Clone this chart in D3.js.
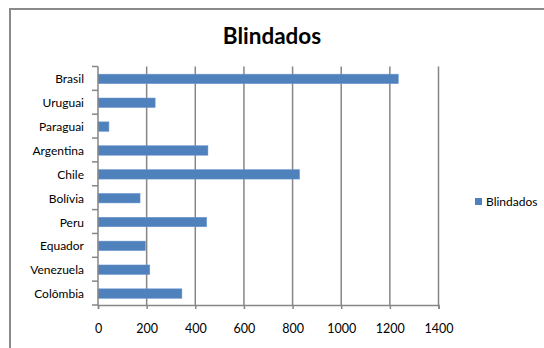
<!DOCTYPE html>
<html><head><meta charset="utf-8">
<script src="https://cdn.jsdelivr.net/npm/d3@7"></script>
<style>body{margin:0;background:#fff}svg{display:block}</style>
</head><body>
<svg id="c" width="544" height="348"></svg>
<script>
const categories = ["Brasil","Uruguai","Paraguai","Argentina","Chile","Bolívia","Peru","Equador","Venezuela","Colômbia"];
const values = [1235, 235, 45, 452, 829, 173, 447, 195, 213, 345];
const xTicks = [0,200,400,600,800,1000,1200,1400];
const seriesName = "Blindados";
const title = "Blindados";

const svg = d3.select("#c");
const font = "Lato, 'Open Sans', sans-serif";

// frame
svg.append("rect").attr("x",10).attr("y",9).attr("width",560).attr("height",360)
  .attr("fill","none").attr("stroke","#8a8a8a").attr("stroke-width",2);

const x = d3.scaleLinear().domain([0,1400]).range([98,438.5]);
const y = d3.scaleBand().domain(categories).range([66.5,305]).paddingInner(0).paddingOuter(0);

// gridlines
svg.append("g").selectAll("line").data(xTicks.slice(1)).join("line")
  .attr("x1",d=>x(d)).attr("x2",d=>x(d)).attr("y1",66.5).attr("y2",305)
  .attr("stroke","#868686").attr("stroke-width",1.5);

// bars
const bh = y.bandwidth()/2.5;
svg.append("g").selectAll("rect").data(values).join("rect")
  .attr("x",x(0)).attr("y",(d,i)=>y(categories[i])+y.bandwidth()/2-bh/2+0.5)
  .attr("width",d=>x(d)-x(0)).attr("height",bh)
  .attr("fill","#4F81BD").attr("stroke","#6f9ad0").attr("stroke-width",0.5);

// x axis
const xa = svg.append("g").attr("transform","translate(0,305)")
  .call(d3.axisBottom(x).tickValues(xTicks).tickSize(4).tickPadding(15).tickFormat(d3.format("d")));
xa.select(".domain").attr("stroke","#868686").attr("stroke-width",1.5);
xa.selectAll(".tick line").attr("stroke","#868686").attr("stroke-width",1.5);
xa.selectAll("text").attr("font-family",font).attr("font-size","12.5px").attr("fill","#000");

// y axis
const yTickPos = d3.range(categories.length+1).map(i=>66.5+i*y.step());
svg.append("g").selectAll("line").data(yTickPos).join("line")
  .attr("x1",92).attr("x2",98).attr("y1",d=>d).attr("y2",d=>d)
  .attr("stroke","#868686").attr("stroke-width",1.5);
svg.append("line").attr("x1",98).attr("x2",98).attr("y1",66.5).attr("y2",305)
  .attr("stroke","#868686").attr("stroke-width",1.5);
svg.append("g").selectAll("text").data(categories).join("text")
  .attr("x",84).attr("y",d=>y(d)+y.bandwidth()/2+5)
  .attr("text-anchor","end").attr("font-family",font).attr("font-size","12px").attr("fill","#000")
  .text(d=>d);

// title
svg.append("text").attr("x",272).attr("y",44).attr("text-anchor","middle")
  .attr("font-family",font).attr("font-weight","bold").attr("font-size","22.5px").text(title);

// legend
svg.append("rect").attr("x",475).attr("y",198).attr("width",7).attr("height",7).attr("fill","#4F81BD");
svg.append("text").attr("x",486).attr("y",206).attr("font-family",font).attr("font-size","12px").text(seriesName);
</script>
</body></html>
